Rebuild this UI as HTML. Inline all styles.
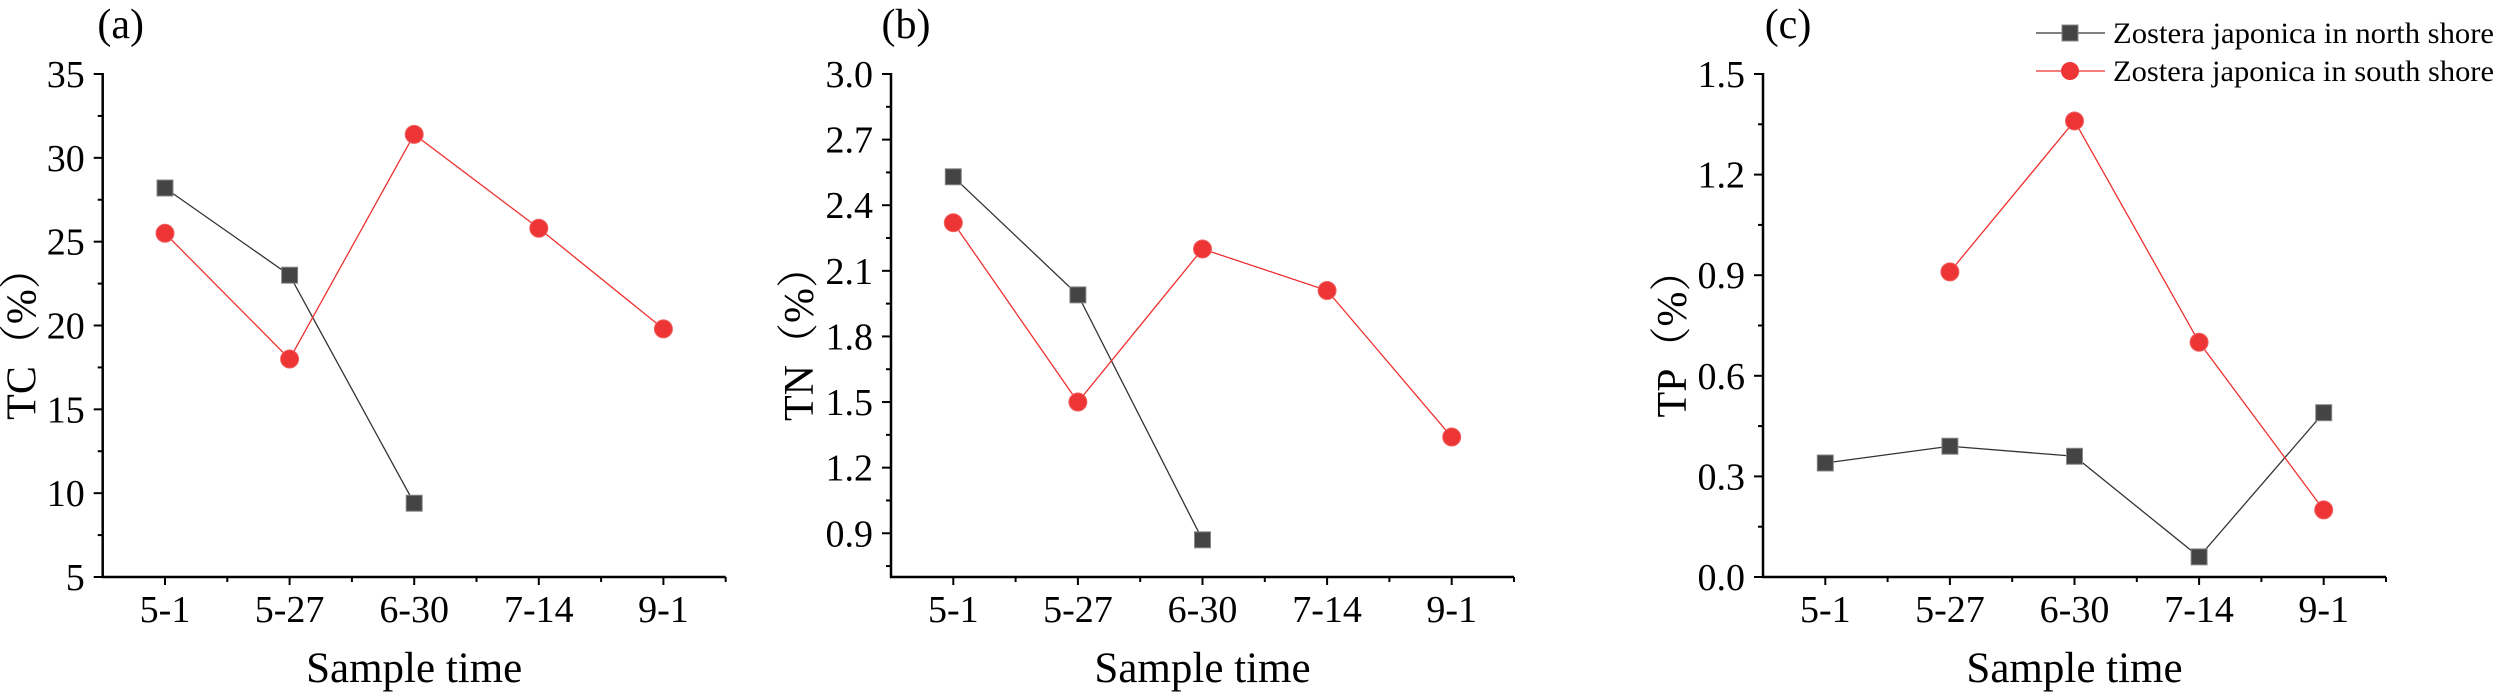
<!DOCTYPE html>
<html><head><meta charset="utf-8"><style>
html,body{margin:0;padding:0;background:#fff;}
svg, svg text{font-family:"Liberation Serif","Noto Serif CJK SC",serif;}
</style></head><body>
<svg id="fig" width="2500" height="694" viewBox="0 0 2500 694" xmlns="http://www.w3.org/2000/svg" font-family="Liberation Serif, Noto Serif CJK SC, serif"></svg>
<script>
const categories = ["5-1","5-27","6-30","7-14","9-1"];
const tcNorth = [28.2, 23.0, 9.4, null, null];
const tcSouth = [25.5, 18.0, 31.4, 25.8, 19.8];
const tnNorth = [2.53, 1.99, 0.87, null, null];
const tnSouth = [2.32, 1.50, 2.20, 2.01, 1.34];
const tpNorth = [0.34, 0.39, 0.36, 0.06, 0.49];
const tpSouth = [null, 0.91, 1.36, 0.70, 0.20];
const tcTicks = ["5","10","15","20","25","30","35"];
const tnTicks = ["0.9","1.2","1.5","1.8","2.1","2.4","2.7","3.0"];
const tpTicks = ["0.0","0.3","0.6","0.9","1.2","1.5"];
const legendLabels = ["Zostera japonica in north shore","Zostera japonica in south shore"];

const NS = "http://www.w3.org/2000/svg";
const FONT = '"Liberation Serif","Noto Serif CJK SC",serif';
const svg = document.getElementById('fig');
function mk(tag, attrs, parent){
  const e = document.createElementNS(NS, tag);
  for (const k in attrs) e.setAttribute(k, attrs[k]);
  if (tag === 'text') e.style.fontFamily = FONT;
  (parent||svg).appendChild(e);
  return e;
}
const TOP = 74, BOT = 577;

function panel(cfg){
  const g = mk('g', {});
  
  
  const x0 = cfg.x0, x1 = cfg.x0 + 623;
  const step = (x1 - x0) / categories.length;
  const xs = i => x0 + step * (i + 0.5);
  const ys = v => BOT - (v - cfg.min) / (cfg.max - cfg.min) * (BOT - TOP);
  const ya = mk('line', {x1:x0, y1:TOP-1, x2:x0, y2:BOT+1, stroke:'#000', 'stroke-width':2.5}, g);
  
  
  const xa = mk('line', {x1:x0-1, y1:BOT, x2:x1, y2:BOT, stroke:'#000', 'stroke-width':2.5}, g);
  
  
  cfg.ticks.forEach((t, i) => {
    const v = parseFloat(t);
    const y = ys(v);
    mk('line', {x1:x0-9, y1:y, x2:x0, y2:y, stroke:'#000', 'stroke-width':2}, g);
    const my = ys(v + cfg.stepv / 2);
    if (my >= TOP - 1) mk('line', {x1:x0-5, y1:my, x2:x0, y2:my, stroke:'#000', 'stroke-width':2}, g);
    const tx = mk('text', {x:x0-18, y:y+13, 'font-size':38, 'text-anchor':'end', fill:'#000'}, g);
    tx.textContent = t;
    
    
  });
  if (cfg.extraMinor !== undefined) {
    const my = ys(cfg.extraMinor);
    mk('line', {x1:x0-5, y1:my, x2:x0, y2:my, stroke:'#000', 'stroke-width':2}, g);
  }
  categories.forEach((c, i) => {
    const x = xs(i);
    mk('line', {x1:x, y1:BOT, x2:x, y2:BOT+8, stroke:'#000', 'stroke-width':2}, g);
    mk('line', {x1:x0+step*(i+1), y1:BOT, x2:x0+step*(i+1), y2:BOT+5, stroke:'#000', 'stroke-width':2}, g);
    const tx = mk('text', {x:x, y:622, 'font-size':38, 'text-anchor':'middle', fill:'#000'}, g);
    tx.textContent = c;
    
    
  });
  const xt = mk('text', {x:(x0+x1)/2, y:682, 'font-size':43, 'text-anchor':'middle', fill:'#000'}, g);
  xt.textContent = 'Sample time';
  
  
  const yx = x0 - cfg.titleOff, yy = (TOP + BOT) / 2 + 8;
  const yt = mk('text', {x:yx, y:yy, 'font-size':42, 'text-anchor':'middle', fill:'#000', transform:`rotate(-90 ${yx} ${yy})`}, g);
  yt.textContent = cfg.ytitle;
  
  
  const pl = mk('text', {x:x0 + cfg.labelDx, y:38, 'font-size':42, 'text-anchor':'middle', fill:'#000'}, g);
  pl.textContent = cfg.label;
  
  
  function series(vals, color, marker, nm){
    const sg = mk('g', {}, g);
    
    
    let d = '';
    let pen = false;
    vals.forEach((v, i) => {
      if (v === null) { pen = false; return; }
      d += (pen ? 'L' : 'M') + xs(i) + ' ' + ys(v) + ' ';
      pen = true;
    });
    const p = mk('path', {d:d, fill:'none', stroke:color, 'stroke-width':1.3}, sg);
    
    
    vals.forEach((v, i) => {
      if (v === null) return;
      let m;
      if (marker === 'sq') m = mk('rect', {x:xs(i)-8, y:ys(v)-8, width:16, height:16, fill:'#444', stroke:'#888', 'stroke-width':1}, sg);
      else m = mk('circle', {cx:xs(i), cy:ys(v), r:9, fill:'#ee3535', stroke:'#f06060', 'stroke-width':1}, sg);
      
      
    });
  }
  series(cfg.north, '#333', 'sq', 'north-shore-series');
  series(cfg.south, '#f03030', 'ci', 'south-shore-series');
}

panel({name:'panel-a-tc', x0:102.7, min:5, max:35, stepv:5, ticks:tcTicks, north:tcNorth, south:tcSouth, ytitle:'TC（%）', label:'(a)', labelDx:18, titleOff:67});
panel({name:'panel-b-tn', x0:891, min:0.7, max:3.0, stepv:0.3, ticks:tnTicks, north:tnNorth, south:tnSouth, ytitle:'TN（%）', label:'(b)', labelDx:15, extraMinor:0.75, titleOff:78});
panel({name:'panel-c-tp', x0:1763, min:0, max:1.5, stepv:0.3, ticks:tpTicks, north:tpNorth, south:tpSouth, ytitle:'TP（%）', label:'(c)', labelDx:25, titleOff:77});

const lg = mk('g', {});


[33, 71].forEach((y, i) => {
  const e = mk('g', {}, lg);
  
  
  mk('line', {x1:2036, y1:y, x2:2105, y2:y, stroke:i===0?'#333':'#f03030', 'stroke-width':1.3}, e);
  if (i === 0) mk('rect', {x:2062, y:y-8, width:16, height:16, fill:'#444', stroke:'#888', 'stroke-width':1}, e);
  else mk('circle', {cx:2070, cy:y, r:9, fill:'#ee3535'}, e);
  const t = mk('text', {x:2113, y:y+10, 'font-size':30, fill:'#000', textLength:381, lengthAdjust:'spacingAndGlyphs'}, e);
  t.textContent = legendLabels[i];
});
</script>
</body></html>
